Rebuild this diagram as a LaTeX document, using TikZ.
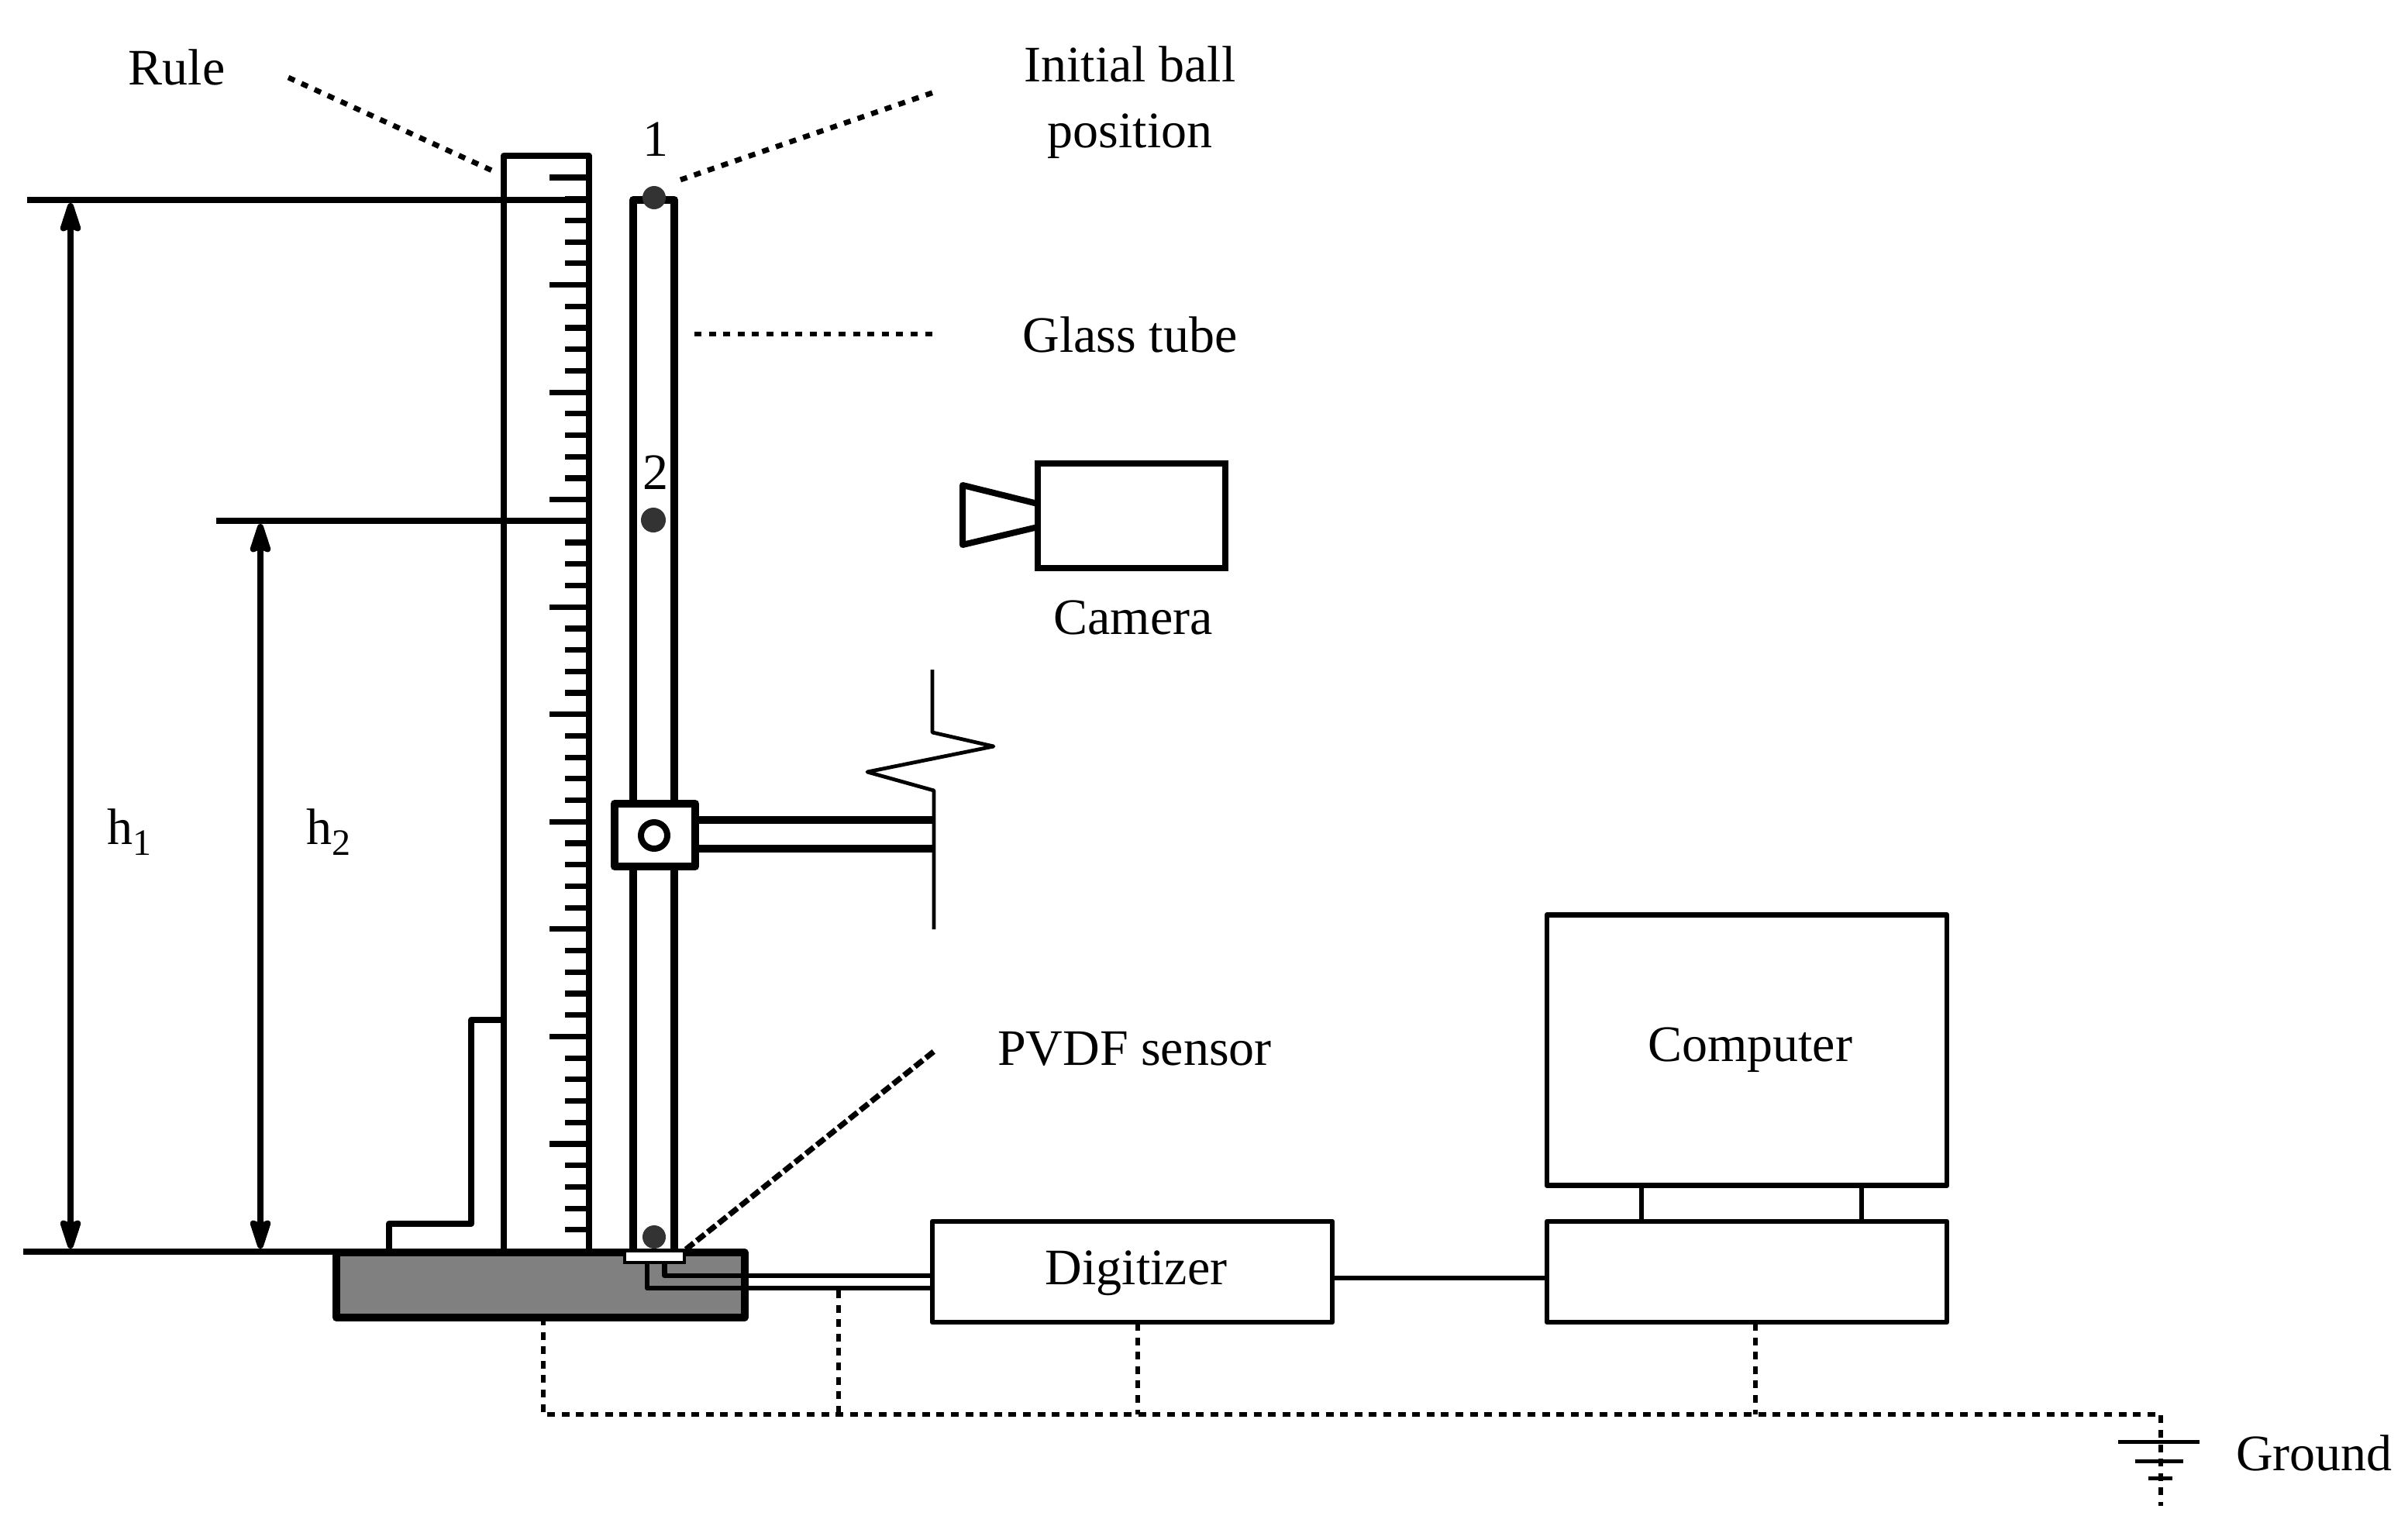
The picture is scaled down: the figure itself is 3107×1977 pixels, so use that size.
\documentclass[tikz,border=0pt]{standalone}
\usepackage{fontspec}
\setmainfont{Liberation Serif}
\usetikzlibrary{arrows.meta,calc}
\definecolor{ballgray}{gray}{0.2}
\definecolor{basegray}{gray}{0.5}
\tikzset{
  x=0.5pt,y=-0.5pt,
  lbl/.style={inner sep=0pt,outer sep=0pt,align=center,font=\fontsize{33}{42.6}\selectfont},
  boxthin/.style={draw,line width=3.4pt,inner sep=0pt,outer sep=0pt,line join=round},
  heavy/.style={line width=4pt,line join=round},
  medium/.style={line width=3.2pt,line join=round},
  thinline/.style={line width=2.4pt,line join=round},
  tick/.style={line width=3.6pt},
  leader/.style={line width=3.4pt,dash pattern=on 4.5pt off 4.8pt},
  leaderdense/.style={line width=3.6pt,dash pattern=on 6.5pt off 2.5pt},
  earth/.style={line width=2.8pt,dash pattern=on 5pt off 4.3pt},
  ball/.style={circle,fill=ballgray,inner sep=0pt,minimum size=15pt,outer sep=0pt},
  dimarrow/.style={line width=4pt,{Stealth[length=24pt,width=15pt,inset=3pt,round]}-{Stealth[length=24pt,width=15pt,inset=3pt,round]}}
}
\begin{document}
\begin{tikzpicture}
\useasboundingbox (0,0) rectangle (3107,1977);
\fill[white] (0,0) rectangle (3107,1977);
% base
\node[draw,fill=basegray,line width=5pt,line join=round,inner sep=0pt,outer sep=0pt,minimum width=263.25pt,minimum height=42pt] (base) at (697.25,1658) {};
% rule
\coordinate (ruleBL) at (650,1615);
\coordinate (ruleBR) at (760,1615);
\draw[heavy] (ruleBL) -- (650,201) -- (760,201) -- (ruleBR);
\foreach \i in {0,...,49}{
  \pgfmathsetmacro{\ty}{229+27.71*\i}
  \pgfmathtruncatemacro{\m}{mod(\i,5)}
  \ifnum\m=0 \draw[tick] (709,\ty) -- (760,\ty); \else \draw[tick] (729,\ty) -- (760,\ty); \fi
}
% tube
\draw[line width=5pt,line join=round] (817,1615) -- (817,258) -- (870,258) -- (870,1615);
% bracket
\draw[heavy] (502,1615) -- (502,1579) -- (608,1579) -- (608,1316) -- (650,1316);
% level lines and dimensions
\coordinate (h1top) at (91,262);
\coordinate (h2top) at (336,676);
\coordinate (h1bot) at (91,1611);
\coordinate (h2bot) at (336,1611);
\draw[heavy] (35,258) -- (760,258);
\draw[heavy] (279,672) -- (760,672);
\draw[heavy] (30,1615) -- (760,1615);
\draw[dimarrow] (h1top) -- (h1bot);
\draw[dimarrow] (h2top) -- (h2bot);
% balls
\node[ball] (ball1) at (844,255) {};
\node[ball,minimum size=16pt] (ball2) at (843,671) {};
\node[ball] (ball3) at (844,1596) {};
% clamp and arm
\draw[line width=5pt,line join=round,fill=white] (793,1037) rectangle (897,1118);
\node[circle,draw,line width=4pt,minimum size=17pt,inner sep=0pt,outer sep=0pt] (pivot) at (844,1078) {};
\draw[line width=5pt] (897,1058) -- (1204,1058);
\draw[line width=5pt] (897,1095) -- (1204,1095);
\draw[thinline] (1203,864) -- (1203,945) -- (1282,963) -- (1119,996) -- (1205,1020) -- (1205,1199);
% sensor and wires
\node[draw,fill=white,line width=2pt,inner sep=0pt,outer sep=0pt,minimum width=38.5pt,minimum height=7.5pt] (sensor) at (844.5,1621.5) {};
% digitizer, computer
\node[boxthin,minimum width=258pt,minimum height=65pt] (dig) at (1461,1641) {};
\node[boxthin,minimum width=258pt,minimum height=65pt] (cbase) at (2254,1641) {};
\node[boxthin,minimum width=258pt,minimum height=174.5pt] (monitor) at (2254,1355) {};
\draw[medium] (2118,1530) -- (2118,1575);
\draw[medium] (2402,1530) -- (2402,1575);
\coordinate (wA) at (1203,1646);
\coordinate (wB) at (1203,1662);
\draw[medium] (857.5,1631) |- (wA);
\draw[medium] (835,1631) |- (wB);
\coordinate (linkL) at (1719,1649);
\coordinate (linkR) at (1996,1649);
\draw[medium] (linkL) -- (linkR);
% camera
\node[draw,line width=4pt,inner sep=0pt,outer sep=0pt,minimum width=121pt,minimum height=67.5pt] (cam) at (1460,665) {};
\draw[line width=4pt,line join=round] (1339,650) -- (1242,626) -- (1242,703) -- (1339,680);
% ground network
\coordinate (gA) at (701,1825);
\coordinate (gB) at (1082,1825);
\coordinate (gC) at (1468,1825);
\coordinate (gD) at (2265,1825);
\coordinate (gE) at (2788,1825);
\coordinate (gF) at (2788,1943);
\draw[earth] (701,1700) -- (gA) -- (gE) -- (gF);
\draw[earth] (1082,1665) -- (gB);
\draw[earth] (1468,1707) -- (gC);
\draw[earth] (2265,1707) -- (gD);
\draw[line width=2.5pt] (2733,1860) -- (2838,1860);
\draw[line width=2.5pt] (2755,1885) -- (2817,1885);
\draw[line width=2.5pt] (2772,1907) -- (2803,1907);
% leaders
\draw[leader] (372,100) -- (637,221);
\draw[leader] (878,232) -- (1205,119);
\draw[leader] (896,431) -- (1203,431);
\draw[leaderdense] (885,1612) -- (1207,1355);
% labels
\node[lbl] (tRule) at (228,87) {Rule};
\node[lbl] (tInit) at (1458,132) {Initial ball\\position};
\node[lbl] (tOne) at (846,180) {1};
\node[lbl] (tTwo) at (846,610) {2};
\node[lbl] (tGlass) at (1458,432) {Glass tube};
\node[lbl] (tCam) at (1462,797) {Camera};
\node[lbl] (tPVDF) at (1464,1353) {PVDF sensor};
\node[lbl] (tComp) at (2258,1355) {Computer};
\node[lbl] (tDig) at (1466,1643) {Digitizer};
\node[lbl] (tGround) at (2986,1875) {Ground};
\node[lbl] (tH1) at (167,1074) {h\raisebox{-7pt}{\fontsize{24}{24}\selectfont 1}};
\node[lbl] (tH2) at (424,1074) {h\raisebox{-7pt}{\fontsize{24}{24}\selectfont 2}};
\end{tikzpicture}
\end{document}
